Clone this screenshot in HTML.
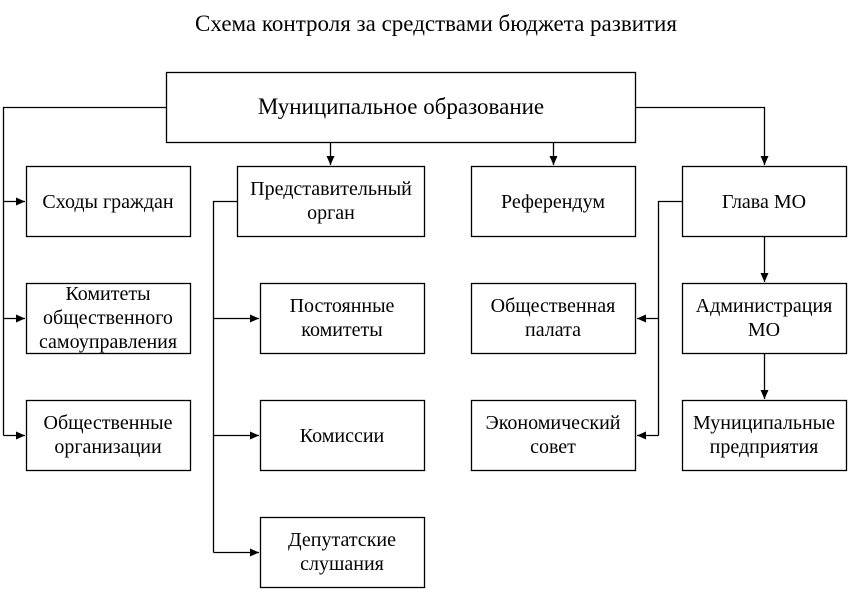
<!DOCTYPE html>
<html><head><meta charset="utf-8"><style>
html,body{margin:0;padding:0;background:#fff;}
svg text{font-family:"Liberation Serif",serif;fill:#000;}
</style></head><body>
<svg width="848" height="590" viewBox="0 0 848 590" xmlns="http://www.w3.org/2000/svg">
<defs><marker id="a" markerWidth="10" markerHeight="10" refX="9" refY="5" orient="auto" markerUnits="userSpaceOnUse"><path d="M0,1 L9,5 L0,9 z" fill="#000"/></marker></defs>
<text x="436" y="31" font-size="23" text-anchor="middle">Схема контроля за средствами бюджета развития</text>
<g fill="none" stroke="#000" stroke-width="1.3">
<rect x="166.5" y="72.5" width="469" height="70"/>
<rect x="26.5" y="166.5" width="164" height="70"/>
<rect x="237.5" y="166.5" width="187" height="70"/>
<rect x="471.5" y="166.5" width="164" height="70"/>
<rect x="682.5" y="166.5" width="164" height="70"/>
<rect x="26.5" y="283.5" width="164" height="70"/>
<rect x="260.5" y="283.5" width="164" height="70"/>
<rect x="471.5" y="283.5" width="164" height="70"/>
<rect x="682.5" y="283.5" width="164" height="70"/>
<rect x="26.5" y="400.5" width="164" height="70"/>
<rect x="260.5" y="400.5" width="164" height="70"/>
<rect x="471.5" y="400.5" width="164" height="70"/>
<rect x="682.5" y="400.5" width="164" height="70"/>
<rect x="260.5" y="517.5" width="164" height="70"/>
<path d="M166,107.5 H3.5 V435.5"/>
<path d="M3.5,201.5 H25" marker-end="url(#a)"/>
<path d="M3.5,318.5 H25" marker-end="url(#a)"/>
<path d="M3.5,435.5 H25" marker-end="url(#a)"/>
<path d="M330.5,142 V165" marker-end="url(#a)"/>
<path d="M553.5,142 V165" marker-end="url(#a)"/>
<path d="M635,107.5 H764.5 V165" marker-end="url(#a)"/>
<path d="M237,201.5 H213.5 V552.5"/>
<path d="M213.5,318.5 H259" marker-end="url(#a)"/>
<path d="M213.5,435.5 H259" marker-end="url(#a)"/>
<path d="M213.5,552.5 H259" marker-end="url(#a)"/>
<path d="M682,201.5 H658.5 V435.5"/>
<path d="M658.5,318.5 H637" marker-end="url(#a)"/>
<path d="M658.5,435.5 H637" marker-end="url(#a)"/>
<path d="M764.5,236 V282" marker-end="url(#a)"/>
<path d="M764.5,353 V399" marker-end="url(#a)"/>
</g>
<g font-size="20" text-anchor="middle">
<text x="401" y="114" font-size="23">Муниципальное образование</text>
<text x="108" y="208">Сходы граждан</text>
<text x="331" y="195">Представительный</text><text x="331" y="219">орган</text>
<text x="553" y="208">Референдум</text>
<text x="764" y="208">Глава МО</text>
<text x="108" y="300">Комитеты</text><text x="108" y="324">общественного</text><text x="108" y="348">самоуправления</text>
<text x="342" y="312">Постоянные</text><text x="342" y="336">комитеты</text>
<text x="553" y="312">Общественная</text><text x="553" y="336">палата</text>
<text x="764" y="312">Администрация</text><text x="764" y="336">МО</text>
<text x="108" y="429">Общественные</text><text x="108" y="453">организации</text>
<text x="342" y="442">Комиссии</text>
<text x="553" y="429">Экономический</text><text x="553" y="453">совет</text>
<text x="764" y="429">Муниципальные</text><text x="764" y="453">предприятия</text>
<text x="342" y="546">Депутатские</text><text x="342" y="570">слушания</text>
</g>
</svg>
</body></html>
